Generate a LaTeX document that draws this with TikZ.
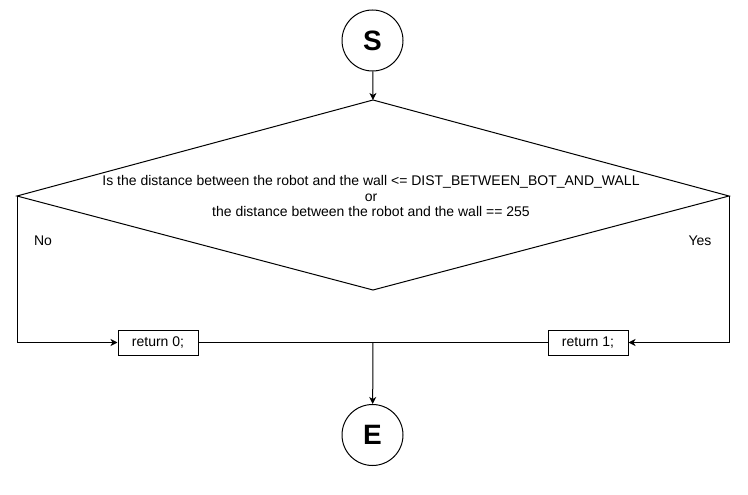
\documentclass[tikz,border=0pt]{standalone}
\usepackage{fontspec}
\setmainfont{Liberation Sans}
\usetikzlibrary{shapes.geometric,arrows.meta}
\begin{document}
\begin{tikzpicture}[x=1pt,y=-1pt,
  every node/.style={font=\fontsize{14}{15.5}\selectfont},
  term/.style={draw,circle,minimum size=61pt,inner sep=0pt,line width=1pt,font=\fontsize{28}{30}\selectfont\bfseries},
  procbox/.style={draw,rectangle,minimum width=80pt,minimum height=25pt,inner sep=0pt,line width=1pt},
  conn/.style={line width=1pt,-{Stealth[length=7pt,width=7pt,inset=2pt]}},
  plain/.style={line width=1pt}]
\useasboundingbox (0,0) rectangle (748,495);
\node[term] (S) at (372.5,40.5) {S};
\coordinate (dt) at (373,100);
\coordinate (dl) at (17,196);
\coordinate (dr) at (729,196);
\coordinate (db) at (373,290);
\draw[plain] (dt) -- (dr) -- (db) -- (dl) -- cycle;
\node[align=center] (q) at (371,196) {Is the distance between the robot and the wall <= DIST\_BETWEEN\_BOT\_AND\_WALL\\or\\the distance between the robot and the wall == 255};
\node (no) at (43,241) {No};
\node (yes) at (700,241) {Yes};
\node[procbox] (r0) at (158,342.5) {return 0;};
\node[procbox] (r1) at (588,342.5) {return 1;};
\node[term] (E) at (372.5,435) {E};
\coordinate (j) at (373,342.5);
\draw[conn] (S) -- (dt);
\draw[conn] (dl) |- (r0);
\draw[conn] (dr) |- (r1);
\draw[plain] (r0) -- (r1);
\draw[conn] (j) -- (E);
\end{tikzpicture}
\end{document}
